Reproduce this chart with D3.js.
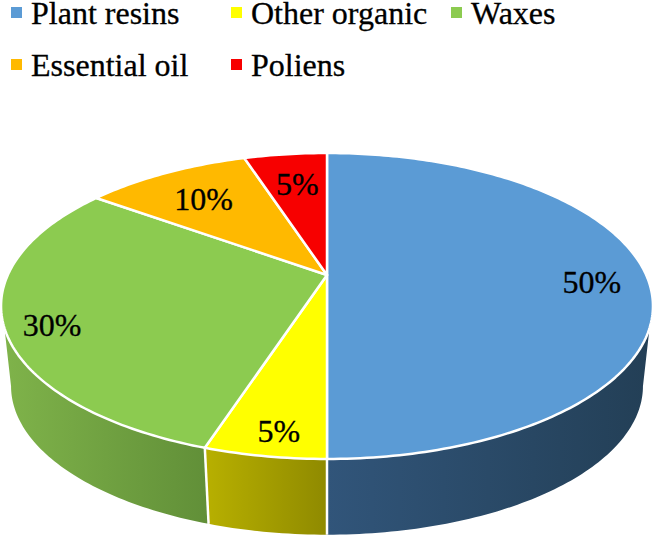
<!DOCTYPE html>
<html>
<head>
<meta charset="utf-8">
<script src="https://cdn.jsdelivr.net/npm/d3@7"></script>
<style>
  html, body { margin: 0; padding: 0; background: #fff; }
  text { font-family: "Liberation Serif", serif; fill: #000; stroke: #000; stroke-width: 0.3px; }
</style>
</head>
<body>
<script>
//slice data, clockwise from 12 o'clock
var categories = ["Plant resins", "Other organic", "Waxes", "Essential oil", "Poliens"];
var shares = [50, 5, 30, 10, 5];
var labels = ["50%", "5%", "30%", "10%", "5%"];
var colors = ["#5b9bd5", "#ffff00", "#8ccb50", "#ffb900", "#f70000"];

//side wall shading, left and right end of each slice
var sideLeft = ["#31557a", "#b8b000", "#7fb34a", "#000", "#000"];
var sideRight = ["#233f56", "#8f8a00", "#618f38", "#000", "#000"];

//how far out each label sits along the slice middle, plus a small nudge
var labelRadius = [0.83, 0.852, 0.86, 0.75, 0.78];
var labelNudgeX = [0, 3, 1, 2, 4];
var labelNudgeY = [-1, -1, 1, -5, -1];

var width = 654,
    height = 537;

var svg = d3.select("body")
    .append("svg")
    .attr("width", width)
    .attr("height", height)
    .style("display", "block");

//tilted disc: unit circle seen in perspective, apex is the circle centre on screen
var persp = 0.2026;
function project(angle, r, disc){
    var u = Math.sin(angle) * r,
        v = -Math.cos(angle) * r,
        s = 1 / (1 - persp * v);
    return [disc.x + disc.rx * u * s, disc.y + disc.ry * v * s];
}

var topDisc = {x: 327, y: 275, rx: 319.2, ry: 146.7};
var lowDisc = {x: 327, y: 356, rx: 309.4, ry: 142.5};

//where the wall outline leaves each rim, measured from 6 o'clock
var topEdge = 70.3 * Math.PI / 180,
    lowEdge = 78.3 * Math.PI / 180;

var pieData = d3.pie().sort(null).value(function(d){ return d; })(shares);

//sample an arc of the rim
function rim(a0, a1, disc){
    var n = Math.max(2, Math.ceil((a1 - a0) * 60));
    return d3.range(n + 1).map(function(i){
        return project(a0 + (a1 - a0) * i / n, 1, disc);
    });
}

//clamp an angle to the part of the rim facing the viewer
function clampTo(a, edge){
    return Math.max(Math.PI - edge, Math.min(Math.PI + edge, a));
}

var line = d3.line();

//gradients for the side wall
var defs = svg.append("defs");
pieData.forEach(function(d, i){
    var g = defs.append("linearGradient").attr("id", "side" + i);
    g.append("stop").attr("offset", "0%").attr("stop-color", sideLeft[i]);
    g.append("stop").attr("offset", "100%").attr("stop-color", sideRight[i]);
});

//side wall, only the three front slices can be seen
var front = pieData.filter(function(d){ return d.startAngle < Math.PI * 1.5; });
svg.selectAll(".side")
    .data(front)
    .enter()
    .append("path")
    .attr("class", "side")
    .attr("fill", function(d){ return "url(#side" + d.index + ")"; })
    .attr("d", function(d){
        var upper = rim(clampTo(d.startAngle, topEdge), clampTo(d.endAngle, topEdge), topDisc),
            lower = rim(clampTo(d.startAngle, lowEdge), clampTo(d.endAngle, lowEdge), lowDisc);
        return line(upper.concat(lower.reverse())) + "Z";
    });

//white seams between the side slices
svg.selectAll(".seam")
    .data(pieData.filter(function(d){ return d.startAngle > 0 && d.startAngle < Math.PI * 1.2; }))
    .enter()
    .append("path")
    .attr("class", "seam")
    .attr("fill", "none")
    .attr("stroke", "#fff")
    .attr("stroke-width", 2.5)
    .attr("d", function(d){
        return line([project(d.startAngle, 1, topDisc), project(d.startAngle, 1, lowDisc)]);
    });

//top face
svg.selectAll(".slice")
    .data(pieData)
    .enter()
    .append("path")
    .attr("class", "slice")
    .attr("fill", function(d, i){ return colors[i]; })
    .attr("stroke", "#fff")
    .attr("stroke-width", 2.5)
    .attr("stroke-linejoin", "round")
    .attr("d", function(d){
        var pts = [[topDisc.x, topDisc.y]].concat(rim(d.startAngle, d.endAngle, topDisc));
        return line(pts) + "Z";
    });

//data labels
svg.selectAll(".label")
    .data(pieData)
    .enter()
    .append("text")
    .attr("class", "label")
    .attr("text-anchor", "middle")
    .attr("font-size", 32)
    .attr("x", function(d, i){
        return project((d.startAngle + d.endAngle) / 2, labelRadius[i], topDisc)[0] + labelNudgeX[i];
    })
    .attr("y", function(d, i){
        return project((d.startAngle + d.endAngle) / 2, labelRadius[i], topDisc)[1] + 19 + labelNudgeY[i];
    })
    .text(function(d, i){ return labels[i]; });

//legend, three columns on two rows
var legendX = d3.scalePoint().domain([0, 1, 2]).range([11, 451]);
var legendY = d3.scalePoint().domain([0, 1]).range([7, 59]);

var legend = svg.selectAll(".legend")
    .data(categories)
    .enter()
    .append("g")
    .attr("class", "legend")
    .attr("transform", function(d, i){
        return "translate(" + legendX(i % 3) + "," + legendY(Math.floor(i / 3)) + ")";
    });

legend.append("rect")
    .attr("width", 11)
    .attr("height", 11)
    .attr("stroke", "none")
    .attr("fill", function(d, i){ return colors[i]; });

legend.append("text")
    .attr("x", 20)
    .attr("y", 16.5)
    .attr("font-size", 32)
    .text(function(d){ return d; });
</script>
</body>
</html>
